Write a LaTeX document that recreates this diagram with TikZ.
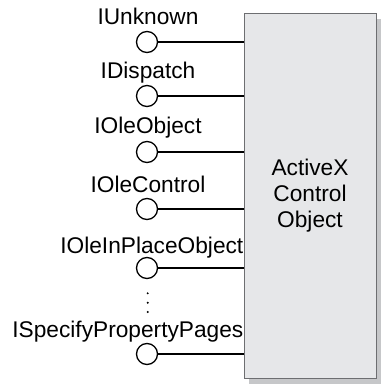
\documentclass[tikz,border=0pt]{standalone}
\usepackage{fontspec}
\setmainfont{Liberation Sans}
\usetikzlibrary{positioning, backgrounds}
\definecolor{objfill}{HTML}{E6E7E9}
\definecolor{objdraw}{HTML}{6D6E71}
\definecolor{objshadow}{HTML}{C6C7C9}
\tikzset{
  objbox/.style={draw=objdraw, fill=objfill, line width=0.9pt, minimum width=132pt,
                 minimum height=365pt, inner sep=0pt, align=center,
                 font=\fontsize{22.7}{26}\selectfont},
  lollipop/.style={circle, draw=black, line width=1.3pt, fill=white,
                   minimum size=21pt, inner sep=0pt},
  ifname/.style={anchor=base, font=\fontsize{22.7}{26}\selectfont, inner sep=0pt},
  link/.style={line width=1.3pt, black},
}
\begin{document}
\begin{tikzpicture}[x=1pt, y=-1pt]
  \useasboundingbox (0,0) rectangle (382,385);
  \node[objbox] (obj) at (310,195.5) {ActiveX\\Control\\Object};
  \begin{scope}[on background layer]
    \fill[objshadow] ([shift={(5pt,-6pt)}]obj.south west) rectangle ([shift={(5pt,-6pt)}]obj.north east);
  \end{scope}
  % interfaces
  \node[lollipop] (unk)  at (147,42)  {};
  \node[lollipop] (disp) at (147,96)  {};
  \node[lollipop] (oobj) at (147,152) {};
  \node[lollipop] (octl) at (147,209) {};
  \node[lollipop] (oipo) at (147,268) {};
  \node[lollipop] (spp)  at (147,354) {};
  \node[ifname] (lunk)  at (148,25)  {IUnknown};
  \node[ifname] (ldisp) at (148,79)  {IDispatch};
  \node[ifname] (loobj) at (148,133) {IOleObject};
  \node[ifname] (loctl) at (148,192.5) {IOleControl};
  \node[ifname, anchor=base east] (loipo) at (243.5,253) {IOleInPlaceObject};
  \node[ifname, anchor=base east] (lspp)  at (243.5,337.5) {ISpecifyPropertyPages};
  \foreach \i in {unk, disp, oobj, octl, oipo, spp}
    \draw[link] (\i.east) -- (\i.east -| obj.west);
  % ellipsis
  \foreach \d in {293.3, 302.7, 312}
    \fill (147.7,\d) circle (1.1pt);
\end{tikzpicture}
\end{document}
